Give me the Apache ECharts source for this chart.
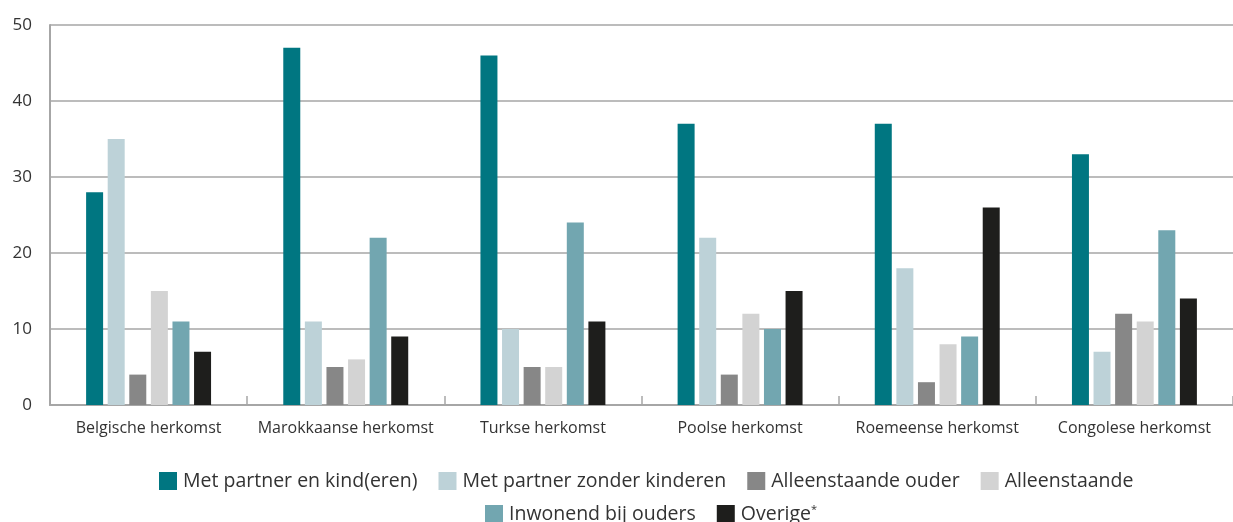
<!DOCTYPE html>
<html><head><meta charset="utf-8">
<script src="https://cdn.jsdelivr.net/npm/echarts@6/dist/echarts.min.js"></script>
<style>html,body{margin:0;padding:0;background:#fff}#c{width:1233px;height:522px}</style>
</head><body><div id="c"></div>
<script>
const categories = ['Belgische herkomst','Marokkaanse herkomst','Turkse herkomst','Poolse herkomst','Roemeense herkomst','Congolese herkomst'];
const seriesNames = ['Met partner en kind(eren)','Met partner zonder kinderen','Alleenstaande ouder','Alleenstaande','Inwonend bij ouders','Overige*'];
const metPartnerKind = [28,47,46,37,37,33];
const metPartnerZonder = [35,11,10,22,18,7];
const alleenstaandeOuder = [4,5,5,4,3,12];
const alleenstaande = [15,6,5,12,8,11];
const inwonend = [11,22,24,10,9,23];
const overige = [7,9,11,15,26,14];
const yTicks = [0,10,20,30,40,50];
const colors = ['#007681','#bdd2d8','#878787','#d3d3d3','#72a6b0','#1e1e1c'];
const values = [metPartnerKind,metPartnerZonder,alleenstaandeOuder,alleenstaande,inwonend,overige];
const font = '"Open Sans", "DejaVu Sans", sans-serif';
const legendText = {fontSize:19.5,color:'#333',fontFamily:font,padding:[0,0,0,1],
  rich:{s:{fontSize:11,verticalAlign:'top',color:'#333',fontFamily:font,padding:[0,0,9,0]}}};
const chart = echarts.init(document.getElementById('c'));
chart.setOption({
  animation:false,
  textStyle:{fontFamily:font},
  grid:{left:50,right:0,top:25,bottom:117,containLabel:false},
  legend:[{
    data:seriesNames.slice(0,4), left:154, top:466,
    itemWidth:18, itemHeight:18, itemGap:21, icon:'rect', textStyle:legendText
  },{
    data:seriesNames.slice(4), left:480, top:499,
    itemWidth:18, itemHeight:18, itemGap:21, icon:'rect', textStyle:legendText,
    formatter:n => n==='Overige*' ? 'Overige{s|*}' : n
  }],
  xAxis:{
    type:'category', data:categories,
    axisLine:{lineStyle:{color:'#a6a6a6',width:2}},
    axisTick:{show:true,inside:true,length:9,lineStyle:{color:'#a6a6a6',width:1.5}},
    axisLabel:{fontSize:16,color:'#333',margin:15,fontFamily:font,interval:0}
  },
  yAxis:{
    type:'value', min:0, max:50, interval:10,
    axisLine:{show:true,lineStyle:{color:'#a6a6a6',width:2}},
    axisTick:{show:false},
    splitLine:{lineStyle:{color:'#a6a6a6',width:1.5}},
    axisLabel:{fontSize:17,color:'#333',margin:18,fontFamily:font,
      formatter:v => yTicks.includes(v) ? String(v) : ''}
  },
  series:seriesNames.map((n,i)=>({
    name:n, type:'bar', data:values[i], barWidth:17, barGap:'27%',
    itemStyle:{color:colors[i]}
  }))
});
</script></body></html>
